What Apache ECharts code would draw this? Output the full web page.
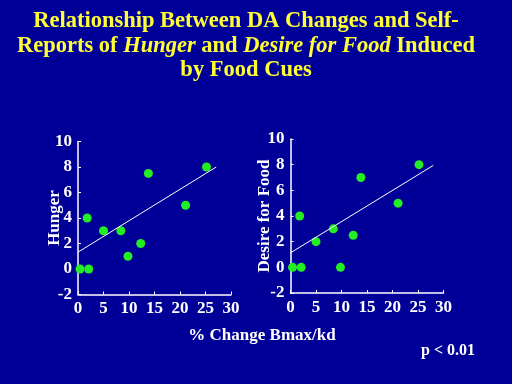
<!DOCTYPE html>
<html><head><meta charset="utf-8">
<script src="https://cdn.jsdelivr.net/npm/echarts@6/dist/echarts.min.js"></script>
<style>html,body{margin:0;padding:0;background:#000099;}#c{width:512px;height:384px;}</style>
</head><body><div id="c"></div>
<script>
var bmaxChange = [0.4, 2.1, 1.8, 5.0, 8.4, 9.8, 12.3, 13.8, 21.1, 25.2];
var hunger = [0, 0, 4, 3, 3, 1, 2, 7.5, 5, 8];
var desire = [0, 0, 4, 2, 3, 0, 2.5, 7, 5, 8];
var hungerFit = [[0, 1.32], [27.1, 8.0]];
var desireFit = [[0, 1.13], [28, 7.94]];
var xTicks = [0, 5, 10, 15, 20, 25, 30];
var yTicks = [-2, 0, 2, 4, 6, 8, 10];

function pairs(xs, ys){ return xs.map(function(x,i){return [x, ys[i]];}); }
var font = 'Times New Roman, Liberation Serif, serif';
function xAxis(idx){
  return {gridIndex: idx, type:'value', min: xTicks[0], max: xTicks[xTicks.length-1], interval: 5,
    axisLine:{show:true, onZero:false, lineStyle:{color:'#fff', width:1.5}},
    axisTick:{show:true, inside:true, length:3, lineStyle:{color:'#fff'}},
    splitLine:{show:false},
    axisLabel:{color:'#fff', fontFamily:font, fontWeight:'bold', fontSize:17, margin:6}};
}
function yAxis(idx, name){
  return {gridIndex: idx, type:'value', min: yTicks[0], max: yTicks[yTicks.length-1], interval: 2,
    name: name, nameLocation:'middle', nameGap: idx===0 ? 15 : 17, nameRotate: 90, nameMoveOverlap:false,
    nameTextStyle:{color:'#fff', fontFamily:font, fontWeight:'bold', fontSize:17, verticalAlign:'bottom'},
    axisLine:{show:true, onZero:false, lineStyle:{color:'#fff', width:1.5}},
    axisTick:{show:true, inside:true, length:3, lineStyle:{color:'#fff'}},
    splitLine:{show:false},
    axisLabel:{color:'#fff', fontFamily:font, fontWeight:'bold', fontSize:17, margin:6}};
}
var chart = echarts.init(document.getElementById('c'));
chart.setOption({
  backgroundColor:'#000099',
  animation:false,
  graphic:[
    {type:'text', x:246, y:10, style:{text:'Relationship Between DA Changes and Self-', fill:'#ffff33', font:'bold 22.5px '+font, align:'center'}},
    {type:'text', x:246, y:35, style:{text:'{n|Reports of }{i|Hunger}{n| and }{i|Desire for Food}{n| Induced}', align:'center',
      rich:{n:{fill:'#ffff33', font:'bold 22.5px '+font}, i:{fill:'#ffff33', font:'italic bold 22.5px '+font}}}},
    {type:'text', x:246, y:59, style:{text:'by Food Cues', fill:'#ffff33', font:'bold 22.5px '+font, align:'center'}},
    {type:'text', x:262, y:327, style:{text:'% Change Bmax/kd', fill:'#fff', font:'bold 17px '+font, align:'center'}},
    {type:'text', x:448, y:343, style:{text:'p < 0.01', fill:'#fff', font:'bold 16px '+font, align:'center'}}
  ],
  grid:[
    {left:78, top:141.5, width:153, height:153},
    {left:290.5, top:139, width:153, height:154}
  ],
  xAxis:[xAxis(0), xAxis(1)],
  yAxis:[yAxis(0,'Hunger'), yAxis(1,'Desire for Food')],
  series:[
    {type:'line', xAxisIndex:0, yAxisIndex:0, data:hungerFit, symbol:'none', lineStyle:{color:'#fff', width:1}},
    {type:'line', xAxisIndex:1, yAxisIndex:1, data:desireFit, symbol:'none', lineStyle:{color:'#fff', width:1}},
    {type:'scatter', xAxisIndex:0, yAxisIndex:0, data:pairs(bmaxChange, hunger), symbolSize:9, itemStyle:{color:'#22ee22', opacity:1}},
    {type:'scatter', xAxisIndex:1, yAxisIndex:1, data:pairs(bmaxChange, desire), symbolSize:9, itemStyle:{color:'#22ee22', opacity:1}}
  ]
});
</script></body></html>
